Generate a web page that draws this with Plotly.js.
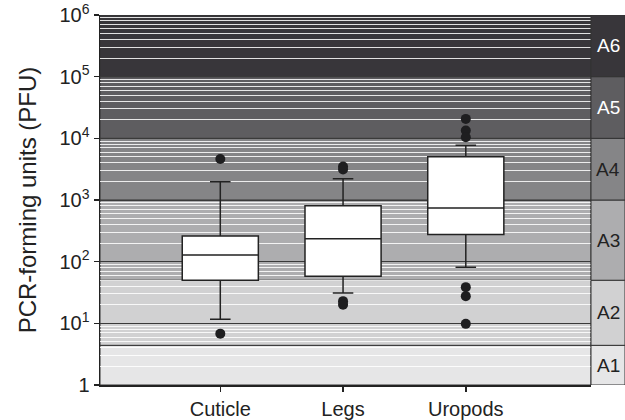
<!DOCTYPE html>
<html><head><meta charset="utf-8">
<script src="https://cdn.plot.ly/plotly-3.0.1.min.js"></script>
<style>html,body{margin:0;padding:0;background:#fff}</style>
</head><body><div id="chart" style="width:625px;height:420px"></div>
<script>
// ---- data ----
const categories = ['Cuticle', 'Legs', 'Uropods'];
const lowerFence = [11.7, 31, 81];
const q1 = [50, 58, 277];
const median = [128, 235, 741];
const q3 = [260, 808, 5050];
const upperFence = [1980, 2220, 7730];

const outlierCats = ['Cuticle', 'Cuticle', 'Legs', 'Legs', 'Legs', 'Legs',
                     'Uropods', 'Uropods', 'Uropods', 'Uropods', 'Uropods', 'Uropods'];
const outlierVals = [4630, 6.8, 3500, 3130, 22.9, 20.1,
                     20650, 13340, 10420, 38.6, 27.6, 9.8];

const bandNames = ['A1', 'A2', 'A3', 'A4', 'A5', 'A6'];
const bandEdges = [1, 4.4, 50, 1000, 1e4, 1e5, 1e6];
const bandColors = ['#e6e6e7', '#d1d1d2', '#adadaf', '#858587', '#5e5d60', '#38363a'];
const bandLabelColors = ['#222', '#222', '#222', '#222', '#fff', '#fff'];

const yTickVals = [1, 10, 100, 1e3, 1e4, 1e5, 1e6];
const yTickText = ['1', '10<sup>1</sup>', '10<sup>2</sup>', '10<sup>3</sup>',
                   '10<sup>4</sup>', '10<sup>5</sup>', '10<sup>6</sup>'];

// ---- layout helpers ----
const W = 625, ML = 100, MR = 0;
const dataRight = 591;
const domEnd = (dataRight - ML) / (W - ML - MR);
const FAMILY = 'Liberation Sans, Arial, sans-serif';

const shapes = [];
const annotations = [];
for (let i = 0; i < bandNames.length; i++) {
  shapes.push({type: 'rect', layer: 'below', xref: 'x domain', yref: 'y',
    x0: 0, x1: 1, y0: bandEdges[i], y1: bandEdges[i + 1],
    fillcolor: bandColors[i], line: {color: '#333', width: 1}});
  shapes.push({type: 'rect', layer: 'above', xref: 'paper', yref: 'y',
    x0: domEnd, x1: 1, y0: bandEdges[i], y1: bandEdges[i + 1],
    fillcolor: bandColors[i], line: {color: '#333', width: 1}});
  annotations.push({xref: 'paper', yref: 'y', x: (domEnd + 1) / 2,
    xanchor: 'center', yanchor: 'middle',
    y: Math.log10(Math.sqrt(bandEdges[i] * bandEdges[i + 1])),
    text: bandNames[i], showarrow: false,
    font: {family: FAMILY, size: 19, color: bandLabelColors[i]}});
}

const boxTrace = {
  type: 'box', x: categories, q1: q1, median: median, q3: q3,
  lowerfence: lowerFence, upperfence: upperFence,
  boxpoints: false, width: 0.62, whiskerwidth: 0.27,
  fillcolor: '#ffffff', line: {color: '#222', width: 1.5},
  hoverinfo: 'skip', showlegend: false
};
const outlierTrace = {
  type: 'scatter', mode: 'markers', x: outlierCats, y: outlierVals,
  marker: {color: '#1e1e20', size: 10}, showlegend: false, hoverinfo: 'skip'
};

const layout = {
  width: 625, height: 420,
  margin: {l: ML, r: MR, t: 15, b: 35},
  paper_bgcolor: '#fff', plot_bgcolor: '#fff',
  font: {family: FAMILY, color: '#222'}, showlegend: false,
  xaxis: {
    type: 'category', domain: [0, domEnd], range: [-0.98, 3.02],
    showline: true, linecolor: '#222', linewidth: 1.5,
    ticks: 'outside', ticklen: 5, tickcolor: '#222', tickwidth: 1.5,
    showgrid: false, zeroline: false,
    tickfont: {family: FAMILY, size: 20, color: '#222'}
  },
  yaxis: {
    type: 'log', range: [0, 6],
    tickmode: 'array', tickvals: yTickVals, ticktext: yTickText,
    showline: true, linecolor: '#222', linewidth: 1.5,
    ticks: 'outside', ticklen: 5, tickcolor: '#222', tickwidth: 1.5,
    showgrid: true, gridcolor: '#3a3a3a', gridwidth: 1,
    minor: {tickmode: 'linear', dtick: 'D1', showgrid: true, gridcolor: 'rgba(255,255,255,0.85)', gridwidth: 1, ticks: ''},
    zeroline: false,
    tickfont: {family: FAMILY, size: 20, color: '#222'},
    title: {text: 'PCR-forming units (PFU)', standoff: 16,
            font: {family: FAMILY, size: 24, color: '#222'}}
  },
  shapes: shapes,
  annotations: annotations
};

Plotly.newPlot('chart', [boxTrace, outlierTrace], layout, {displayModeBar: false, staticPlot: true});
</script>
</body></html>
